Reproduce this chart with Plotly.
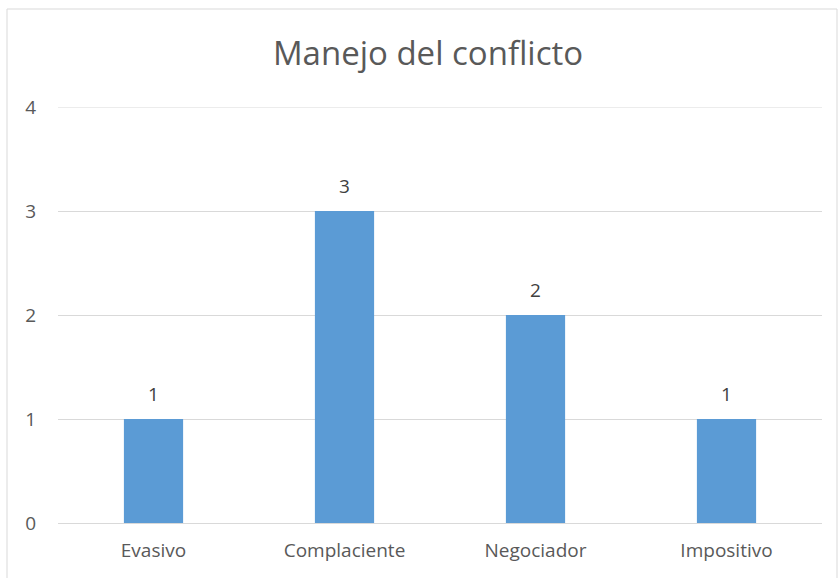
import plotly.graph_objects as go

categories = ["Evasivo", "Complaciente", "Negociador", "Impositivo"]
values = [1, 3, 2, 1]
y_ticks = [0, 1, 2, 3, 4]

W, H = 838, 578
ml, mr, mt, mb = 58, 16, 107, 55
pw, ph = W - ml - mr, H - mt - mb
FONT = "Open Sans, Liberation Sans, sans-serif"

fig = go.Figure(go.Bar(
    x=categories, y=values,
    marker=dict(color="#5b9bd5", line=dict(width=0)),
    hoverinfo="x+y",
))

fig.update_layout(
    width=W, height=H,
    margin=dict(l=ml, r=mr, t=mt, b=mb),
    paper_bgcolor="white", plot_bgcolor="white",
    bargap=0.69,
    showlegend=False,
    title=dict(text="Manejo del conflicto", x=(428 - ml) / pw, xref="paper", xanchor="center",
               y=1 - 53 / H, yanchor="middle",
               font=dict(family=FONT, size=33, color="#595959")),
    font=dict(family=FONT, size=19, color="#595959"),
    xaxis=dict(showgrid=False, showline=False, ticks="", tickfont=dict(size=19, color="#595959"),
               ticklabelstandoff=14),
    yaxis=dict(range=[0, max(y_ticks)], tickvals=y_ticks, showgrid=True, gridcolor="#d9d9d9", gridwidth=1,
               zeroline=True, zerolinecolor="#d9d9d9", zerolinewidth=1, showline=False, ticks="",
               tickfont=dict(size=19, color="#595959"), ticklabelstandoff=21),
    annotations=[dict(x=c, y=v, text=str(v), showarrow=False, yanchor="bottom", yshift=10,
                      font=dict(family=FONT, size=19, color="#404040"))
                 for c, v in zip(categories, values)],
    shapes=[
        dict(type="line", xref="paper", yref="y", x0=0, x1=1, y0=max(y_ticks), y1=max(y_ticks),
             line=dict(color="#d9d9d9", width=1), layer="below"),
        dict(type="rect", xref="paper", yref="paper",
             x0=(7 - ml) / pw, x1=(837 - ml) / pw,
             y0=(H - 620 - mb) / ph, y1=(H - 9 - mb) / ph,
             line=dict(color="#d9d9d9", width=1), fillcolor="rgba(0,0,0,0)", layer="below"),
    ],
)

fig.write_html("out.html", config={"displayModeBar": False},
               post_script="document.body.style.margin='0';document.body.style.overflow='hidden';")
